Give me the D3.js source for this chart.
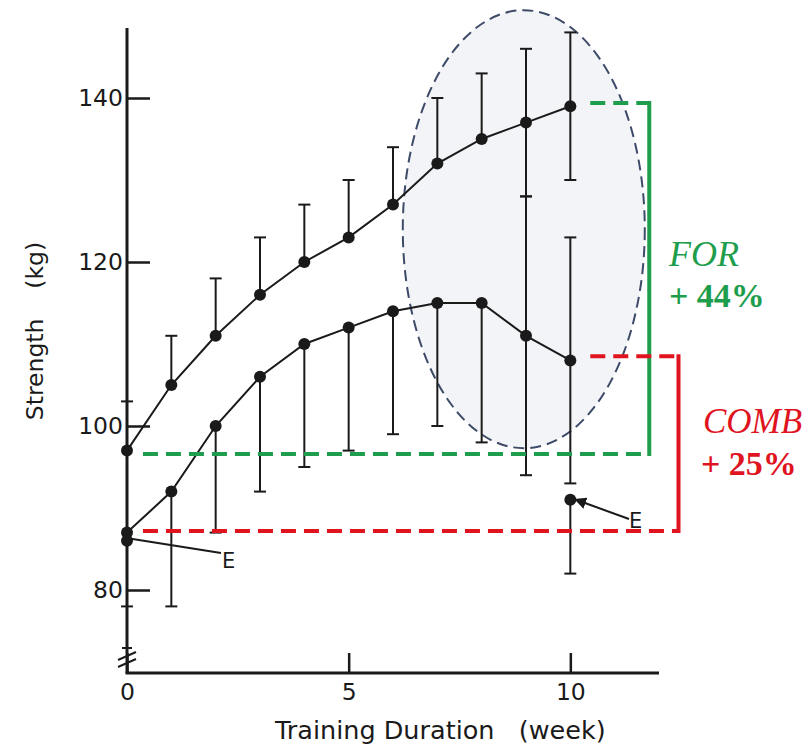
<!DOCTYPE html>
<html>
<head>
<meta charset="utf-8">
<script src="https://cdn.jsdelivr.net/npm/d3@7"></script>
<style>
  body { margin: 0; background: #fff; }
  svg { display: block; }
  .sans { font-family: "DejaVu Sans", "Liberation Sans", Arial, sans-serif; fill: #1a1a1a; }
  .serif { font-family: "Liberation Serif", "Times New Roman", serif; }
</style>
</head>
<body>
<svg id="chart" width="811" height="747"></svg>
<script>
// ---------- Data ----------
const weeks = [0, 1, 2, 3, 4, 5, 6, 7, 8, 9, 10];
const forMean = [97, 105, 111, 116, 120, 123, 127, 132, 135, 137, 139];
const forSD = [6, 6, 7, 7, 7, 7, 7, 8, 8, 9, 9];
const combMean = [87, 92, 100, 106, 110, 112, 114, 115, 115, 111, 108];
const combSD = [9, 14, 13, 14, 15, 15, 15, 15, 17, 17, 15];
const twoSidedWeeks = [9, 10];          // weeks where both bar halves are drawn
const eWeeks = [0, 10];
const eMean = [86, 91];
const eSD = [0, 9];
const yTicks = [80, 100, 120, 140];
const xTicks = [0, 5, 10];
const greenLevels = [96.6, 139.4];      // FOR gain bracket
const redLevels = [87.2, 108.5];        // COMB gain bracket

const GREEN = '#1e9e4c';
const RED = '#e0141e';
const INK = '#1a1a1a';

// ---------- Setup ----------
const svg = d3.select('#chart');
const x = d3.scaleLinear().domain([0, 12]).range([127, 659]);
const y = d3.scaleLinear().domain([80, 140]).range([590, 98]);
const yTop = 28, yBottom = 673;

// highlight ellipse (behind the data)
svg.append('ellipse')
    .attr('cx', x(8.95)).attr('cy', y(124))
    .attr('rx', 121).attr('ry', 219)
    .attr('fill', '#f3f4f7')
    .attr('stroke', '#3d4b68')
    .attr('stroke-width', 2)
    .attr('stroke-dasharray', '11,6');

// ---------- Axes ----------
const yAxis = d3.axisLeft(y).tickValues(yTicks).tickSizeInner(-23).tickSizeOuter(0).tickPadding(4);
const xAxis = d3.axisBottom(x).tickValues(xTicks).tickSizeInner(-20).tickSizeOuter(0).tickPadding(10);

const gy = svg.append('g').attr('transform', `translate(${x(0)},0)`).call(yAxis);
const gx = svg.append('g').attr('transform', `translate(0,${yBottom})`).call(xAxis);
[gy, gx].forEach(g => {
    g.select('.domain').remove();
    g.selectAll('line').attr('stroke', INK).attr('stroke-width', 2.5);
    g.selectAll('text').attr('class', 'sans')
        .style('font-size', '23.5px').attr('fill', INK);
});
gx.selectAll('text').attr('dy', '0.71em');

svg.append('line').attr('x1', x(0)).attr('x2', x(0)).attr('y1', yTop).attr('y2', yBottom)
    .attr('stroke', INK).attr('stroke-width', 3);
svg.append('line').attr('x1', x(0) - 1.5).attr('x2', x(12)).attr('y1', yBottom).attr('y2', yBottom)
    .attr('stroke', INK).attr('stroke-width', 3);

// axis break marks
svg.append('line').attr('x1', x(0) - 5).attr('x2', x(0) + 5).attr('y1', 648).attr('y2', 648)
    .attr('stroke', INK).attr('stroke-width', 2);
[0, 7].forEach(o => {
    svg.append('line')
        .attr('x1', x(0) - 9).attr('y1', 660 + o)
        .attr('x2', x(0) + 9).attr('y2', 652 + o)
        .attr('stroke', INK).attr('stroke-width', 2);
});

// axis titles
svg.append('text').attr('class', 'sans')
    .attr('transform', `translate(43,331) rotate(-90)`)
    .attr('text-anchor', 'middle')
    .style('font-size', '23.5px')
    .text('Strength\u00a0\u00a0\u00a0\u00a0(kg)');
svg.append('text').attr('class', 'sans')
    .attr('x', 275).attr('y', 739)
    .style('font-size', '25.5px')
    .text('Training Duration\u00a0\u00a0\u00a0(week)');

// ---------- Series ----------
const line = d3.line().x(d => x(d.w)).y(d => y(d.m));
const capW = 6;

function errorBar(w, from, to) {
    const g = svg.append('g').attr('stroke', INK).attr('stroke-width', 2);
    g.append('line').attr('x1', x(w)).attr('x2', x(w)).attr('y1', y(from)).attr('y2', y(to));
    g.append('line').attr('x1', x(w) - capW).attr('x2', x(w) + capW).attr('y1', y(to)).attr('y2', y(to));
}

function drawSeries(mean, sd, dir) {
    const pts = weeks.map((w, i) => ({ w, m: mean[i], s: sd[i] }));
    pts.forEach(p => {
        errorBar(p.w, p.m, p.m + dir * p.s);
        if (twoSidedWeeks.includes(p.w)) errorBar(p.w, p.m, p.m - dir * p.s);
    });
    svg.append('path').datum(pts)
        .attr('d', line).attr('fill', 'none')
        .attr('stroke', INK).attr('stroke-width', 2);
    svg.selectAll(null).data(pts).join('circle')
        .attr('cx', d => x(d.w)).attr('cy', d => y(d.m)).attr('r', 6)
        .attr('fill', INK);
}

drawSeries(forMean, forSD, 1);
drawSeries(combMean, combSD, -1);

// E points
eWeeks.forEach((w, i) => {
    if (eSD[i]) errorBar(w, eMean[i], eMean[i] - eSD[i]);
    svg.append('circle').attr('cx', x(w)).attr('cy', y(eMean[i])).attr('r', 6).attr('fill', INK);
});

// E labels
svg.append('defs').append('marker')
    .attr('id', 'arrow').attr('viewBox', '0 0 10 10')
    .attr('refX', 1).attr('refY', 5)
    .attr('markerWidth', 6).attr('markerHeight', 6)
    .attr('orient', 'auto-start-reverse')
    .append('path').attr('d', 'M0,0 L10,5 L0,10 z').attr('fill', INK);

svg.append('line')
    .attr('x1', x(0) + 4).attr('y1', y(eMean[0]) - 2)
    .attr('x2', 221).attr('y2', 553)
    .attr('stroke', INK).attr('stroke-width', 2);
svg.append('text').attr('class', 'sans')
    .attr('x', 222).attr('y', 568).style('font-size', '21px').text('E');

svg.append('line')
    .attr('x1', 629).attr('y1', 519)
    .attr('x2', x(10) + 14).attr('y2', y(eMean[1]) + 3)
    .attr('stroke', INK).attr('stroke-width', 2)
    .attr('marker-end', 'url(#arrow)');
svg.append('text').attr('class', 'sans')
    .attr('x', 629).attr('y', 528).style('font-size', '21px').text('E');

// ---------- Gain brackets ----------
function bracket(levels, xEnd, color) {
    const g = svg.append('g').attr('stroke', color).attr('stroke-width', 4).attr('fill', 'none');
    g.append('line').attr('x1', x(0.36)).attr('x2', x(xEnd)).attr('y1', y(levels[0])).attr('y2', y(levels[0]))
        .attr('stroke-dasharray', '15,8');
    g.append('line').attr('x1', x(10.45)).attr('x2', x(xEnd)).attr('y1', y(levels[1])).attr('y2', y(levels[1]))
        .attr('stroke-dasharray', '15,8');
    g.append('line').attr('x1', x(xEnd)).attr('x2', x(xEnd)).attr('y1', y(levels[1]) - 2).attr('y2', y(levels[0]) + 2);
}
bracket(greenLevels, 11.78, GREEN);
bracket(redLevels, 12.44, RED);

svg.append('text').attr('class', 'serif')
    .attr('x', 669).attr('y', 266).attr('fill', GREEN)
    .style('font-size', '36px').style('font-style', 'italic')
    .text('FOR');
svg.append('text').attr('class', 'serif')
    .attr('x', 669).attr('y', 307).attr('fill', GREEN)
    .style('font-size', '34px').style('font-weight', 'bold')
    .text('+ 44%');
svg.append('text').attr('class', 'serif')
    .attr('x', 703).attr('y', 433).attr('fill', RED)
    .style('font-size', '35px').style('font-style', 'italic')
    .text('COMB');
svg.append('text').attr('class', 'serif')
    .attr('x', 701).attr('y', 475).attr('fill', RED)
    .style('font-size', '34px').style('font-weight', 'bold')
    .text('+ 25%');
</script>
</body>
</html>
